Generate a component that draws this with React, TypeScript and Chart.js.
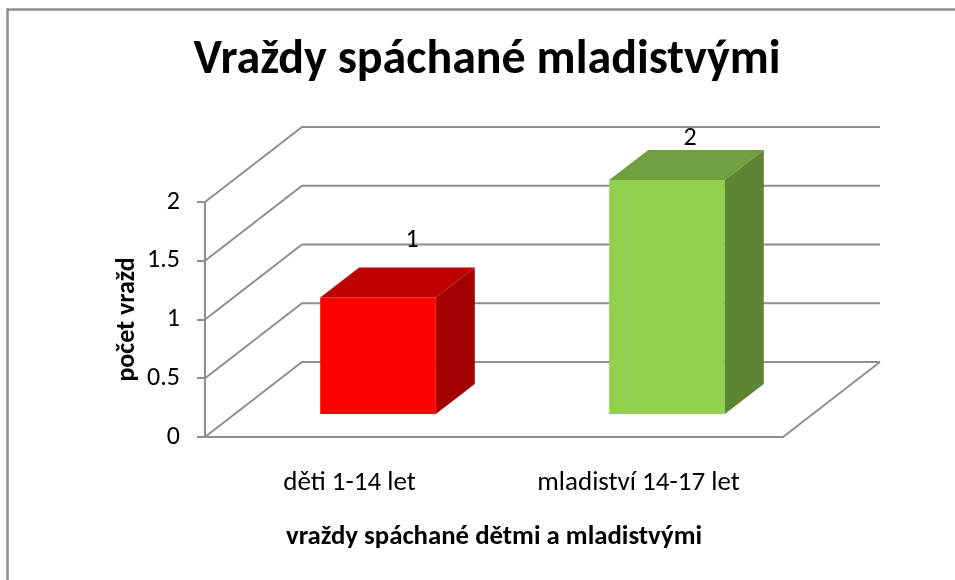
import React, { useEffect, useRef } from 'react';
import { Chart, registerables } from 'chart.js';

Chart.register(...registerables);

// ---- data ----
const categories = ['děti 1-14 let', 'mladiství 14-17 let'];
const values = [1, 2];
const frontColors = ['#FF0000', '#92D050'];
const topColors = ['#C00000', '#6F9F3F'];
const sideColors = ['#A30000', '#5E8533'];
const yMin = 0;
const yMax = 2;
const yStep = 0.5;
const titleText = 'Vraždy spáchané mladistvými';
const yTitle = 'počet vražd';
const xTitle = 'vraždy spáchané dětmi a mladistvými';

// ---- styling ----
const FONT = 'Carlito, Calibri, Lato, sans-serif';
const GRID = '#8f8f8f';
const WALL = { dx: 97, dy: -75 };
const BAR_SHIFT = { dx: 28.5, dy: -22 };
const BAR_DEPTH = { dx: 39, dy: -30 };
// perspective-like placement of the value labels
const LABEL_X = { k: 0.962, c: 68 };
const LABEL_Y = { k: 0.868, c: -95 };

const frame3d = {
  id: 'frame3d',
  beforeDraw(chart: any) {
    const ctx = chart.ctx;
    ctx.save();
    ctx.strokeStyle = GRID;
    ctx.lineWidth = 2.5;
    ctx.strokeRect(7.5, 9.5, chart.width + 40, chart.height + 40);
    ctx.restore();
  },
  beforeDatasetsDraw(chart: any) {
    const { ctx, chartArea: a, scales } = chart;
    const y = scales.y;
    ctx.save();
    ctx.strokeStyle = GRID;
    ctx.lineWidth = 2;
    y.ticks.forEach((t: any) => {
      const py = y.getPixelForValue(t.value);
      ctx.beginPath();
      ctx.moveTo(a.left, py);
      ctx.lineTo(a.left + WALL.dx, py + WALL.dy);
      ctx.lineTo(a.right + WALL.dx, py + WALL.dy);
      ctx.stroke();
    });
    ctx.beginPath();
    ctx.moveTo(a.right, a.bottom);
    ctx.lineTo(a.right + WALL.dx, a.bottom + WALL.dy);
    ctx.stroke();
    ctx.restore();
  },
  beforeDatasetDraw(chart: any) {
    chart.ctx.save();
    chart.ctx.translate(BAR_SHIFT.dx, BAR_SHIFT.dy);
  },
  afterDatasetDraw(chart: any, args: any) {
    const ctx = chart.ctx;
    const a = chart.chartArea;
    const ds = chart.data.datasets[args.index];
    const bars = args.meta.data.map((bar: any) => bar.getProps(['x', 'y', 'base', 'width'], true));
    bars.forEach((b: any, i: number) => {
      const { x, y, base, width } = b;
      const l = x - width / 2;
      const r = x + width / 2;
      ctx.fillStyle = topColors[i];
      ctx.beginPath();
      ctx.moveTo(l, y);
      ctx.lineTo(l + BAR_DEPTH.dx, y + BAR_DEPTH.dy);
      ctx.lineTo(r + BAR_DEPTH.dx, y + BAR_DEPTH.dy);
      ctx.lineTo(r, y);
      ctx.closePath();
      ctx.fill();
      ctx.fillStyle = sideColors[i];
      ctx.beginPath();
      ctx.moveTo(r, y);
      ctx.lineTo(r + BAR_DEPTH.dx, y + BAR_DEPTH.dy);
      ctx.lineTo(r + BAR_DEPTH.dx, base + BAR_DEPTH.dy);
      ctx.lineTo(r, base);
      ctx.closePath();
      ctx.fill();
    });
    ctx.restore();
    ctx.save();
    ctx.fillStyle = '#000';
    ctx.font = `26px ${FONT}`;
    ctx.textAlign = 'center';
    ctx.textBaseline = 'middle';
    bars.forEach((b: any, i: number) => {
      const lx = a.left + LABEL_X.k * (b.x - a.left) + LABEL_X.c;
      const ly = a.bottom - LABEL_Y.k * (a.bottom - b.y) + LABEL_Y.c;
      ctx.fillText(String(ds.data[i]), lx, ly);
    });
    ctx.restore();
  },
};

export default function App() {
  const ref = useRef<HTMLCanvasElement>(null);
  useEffect(() => {
    const chart = new Chart(ref.current as HTMLCanvasElement, {
      type: 'bar',
      data: {
        labels: categories,
        datasets: [
          {
            data: values,
            backgroundColor: frontColors,
            borderWidth: 0,
            barPercentage: 0.4,
            categoryPercentage: 1,
            clip: false as any,
          },
        ],
      },
      options: {
        responsive: false,
        devicePixelRatio: 1,
        animation: false,
        layout: { padding: { left: 19, right: 0, top: 0, bottom: 0 } },
        plugins: {
          legend: { display: false },
          tooltip: { enabled: false },
          title: {
            display: true,
            text: titleText,
            color: '#000',
            font: { family: FONT, size: 48, weight: 'bold', lineHeight: 1.2 },
            padding: { top: 32, bottom: 112.4 },
          },
        },
        scales: {
          x: {
            grid: { display: false, drawTicks: false },
            border: { display: true, color: GRID, width: 2 },
            ticks: { color: '#000', font: { family: FONT, size: 27, lineHeight: 1.2 }, padding: 29.8 },
            title: {
              display: true,
              text: xTitle,
              color: '#000',
              font: { family: FONT, size: 26.8, weight: 'bold', lineHeight: 1.2 },
              padding: { top: 0, bottom: 26.9 },
            },
            afterFit(s: any) {
              s.height = 143;
            },
          },
          y: {
            min: yMin,
            max: yMax,
            ticks: {
              stepSize: yStep,
              color: '#000',
              font: { family: FONT, size: 26, lineHeight: 1.2 },
              padding: 17,
              callback: (v: any) => String(Number(v)),
            },
            grid: { drawOnChartArea: false, drawTicks: true, tickLength: 8, color: GRID, lineWidth: 2 },
            border: { display: true, color: GRID, width: 2 },
            title: {
              display: true,
              text: yTitle,
              color: '#000',
              font: { family: FONT, size: 26, weight: 'bold', lineHeight: 1.2 },
              padding: { top: 92.4, bottom: 0 },
            },
            afterFit(s: any) {
              s.width = 186;
            },
          },
          y2: {
            type: 'linear',
            position: 'right',
            display: true,
            grid: { display: false, drawTicks: false },
            border: { display: false },
            ticks: { display: false },
            afterFit(s: any) {
              s.width = 172;
            },
          },
        },
      } as any,
      plugins: [frame3d],
    });
    return () => chart.destroy();
  }, []);
  return (
    <div style={{ position: 'absolute', left: 0, top: 0, width: 955, height: 580, background: '#fff' }}>
      <canvas ref={ref} width={955} height={580} style={{ display: 'block' }} />
    </div>
  );
}
